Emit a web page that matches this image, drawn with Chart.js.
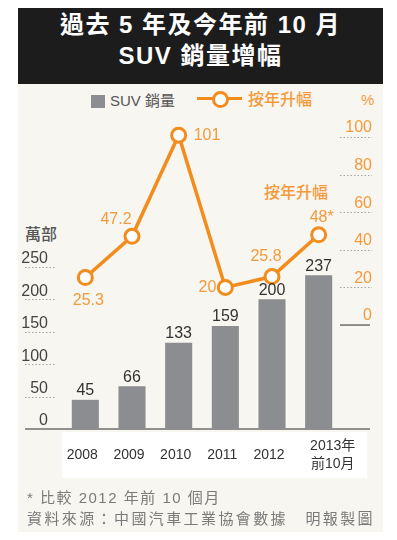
<!DOCTYPE html>
<html lang="zh-Hant">
<head>
<meta charset="utf-8">
<script src="https://cdn.jsdelivr.net/npm/chart.js@4.4.1/dist/chart.umd.min.js"></script>
<style>
  body { margin: 0; background: #fff; font-family: 'Liberation Sans', 'Noto Sans CJK TC', sans-serif; }
  #wrap { position: relative; width: 397px; height: 540px; overflow: hidden; }
  .panel { position: absolute; left: 18px; top: 84px; width: 365px; height: 448px; background: #f8f6f1; }
  .title { position: absolute; left: 18px; top: 8px; width: 365px; height: 76px; box-sizing: border-box; padding-top: 1px;
           background: #1d1c1c; color: #fff; text-align: center; font-weight: bold; font-size: 24px; line-height: 31px;
           letter-spacing: 1.5px; }
  .band { position: absolute; left: 62px; top: 432px; width: 305px; height: 46px; background: #fff; }
  canvas { position: absolute; left: 0; top: 0; }
  .abs { position: absolute; white-space: nowrap; line-height: 1; }
  .orange { color: #f39a3c; }
  .note { position: absolute; left: 27px; color: #7a7a7a; font-size: 15px; line-height: 1; white-space: nowrap; letter-spacing: 1.5px; }
</style>
</head>
<body>
<div id="wrap">
  <div class="panel"></div>
  <div class="title">過去 5 年及今年前 10 月<br>SUV 銷量增幅</div>
  <div class="band"></div>

  <!-- legend -->
  <div class="abs" style="left:91px;top:95px;width:14px;height:13px;background:#8c8d90;"></div>
  <div class="abs" style="left:110px;top:93px;font-size:15px;color:#555;">SUV 銷量</div>
  <div class="abs" style="left:197px;top:97px;width:45px;height:3px;background:#f28c1c;"></div>
  <div class="abs" style="left:212px;top:91px;width:17px;height:17px;box-sizing:border-box;border:3px solid #f28c1c;border-radius:50%;background:#fff;"></div>
  <div class="abs orange" style="left:248px;top:92px;font-size:16px;font-weight:500;">按年升幅</div>
  <div class="abs orange" style="left:361px;top:92px;font-size:15px;">%</div>

  <!-- axis captions -->
  <div class="abs" style="left:25px;top:227px;font-size:16px;font-weight:500;color:#555;">萬部</div>
  <div class="abs orange" style="left:264px;top:185px;font-size:16px;font-weight:500;">按年升幅</div>

  <canvas id="suvChart" width="397" height="540"></canvas>

  <div class="note" style="top:490px;">* 比較 2012 年前 10 個月</div>
  <div class="note" style="top:511px;letter-spacing:2.4px;">資料來源：中國汽車工業協會數據　明報製圖</div>
</div>

<script>
// Data
const years = ['2008', '2009', '2010', '2011', '2012', ['2013年', '前10月']];
const salesWan = [45, 66, 133, 159, 200, 237];
const growthPct = [25.3, 47.2, 101, 20, 25.8, 48];
const growthText = ['25.3', '47.2', '101', '20', '25.8', '48*'];
const salesTicks = [0, 50, 100, 150, 200, 250];
const pctTicks = [0, 20, 40, 60, 80, 100];

// Where each growth label sits relative to its point
const growthLabelPlace = [
  { dx: 3, dy: 23, align: 'center' },
  { dx: -16, dy: -17, align: 'center' },
  { dx: 15, dy: 0, align: 'left' },
  { dx: -9, dy: 0, align: 'right' },
  { dx: -6, dy: -20, align: 'center' },
  { dx: 3, dy: -17, align: 'center' },
];

const ORANGE = '#f28c1c';
const ORANGE_TEXT = '#f39a3c';
const BAR_GREY = '#8c8d90';
const FONT = "'Liberation Sans', 'Noto Sans CJK TC', sans-serif";

/**
 * Dotted rules under tick labels, base line, category and value labels
 */
const overlayPlugin = {
  id: 'overlay',
  beforeDatasetsDraw(chart) {
    const ctx = chart.ctx;
    const ys = chart.scales.ySales;
    const yp = chart.scales.yPct;
    ctx.save();
    ctx.lineWidth = 1;
    ctx.strokeStyle = '#a5a5a5';
    ctx.setLineDash([1.5, 2]);
    salesTicks.forEach((v) => {
      if (v === 0) return;
      const y = Math.round(ys.getPixelForValue(v)) + 0.5;
      ctx.beginPath();
      ctx.moveTo(ys.right - 37, y);
      ctx.lineTo(ys.right - 6, y);
      ctx.stroke();
    });
    pctTicks.forEach((v) => {
      if (v === 0) return;
      const y = Math.round(yp.getPixelForValue(v)) + 0.5;
      ctx.beginPath();
      ctx.moveTo(yp.left - 2, y);
      ctx.lineTo(yp.right, y);
      ctx.stroke();
    });
    ctx.setLineDash([]);
    ctx.strokeStyle = '#6e6e6e';
    ctx.lineWidth = 1.5;
    // 0 % rule
    const y0p = yp.getPixelForValue(0);
    ctx.beginPath();
    ctx.moveTo(yp.left - 2, y0p);
    ctx.lineTo(yp.right - 2, y0p);
    ctx.stroke();
    // base line of the bars
    const y0 = ys.getPixelForValue(0);
    ctx.beginPath();
    ctx.moveTo(ys.right - 37, y0);
    ctx.lineTo(yp.right - 2, y0);
    ctx.stroke();

    // category labels, multi-line ones centred on the same line
    const xs = chart.scales.x;
    const lineH = 18;
    ctx.font = '14px ' + FONT;
    ctx.fillStyle = '#333';
    ctx.textAlign = 'center';
    ctx.textBaseline = 'middle';
    years.forEach((label, i) => {
      const lines = Array.isArray(label) ? label : [label];
      const x = xs.getPixelForValue(i) + (lines.length > 1 ? 14 : -3);
      const top = y0 + 26 - ((lines.length - 1) * lineH) / 2;
      lines.forEach((t, k) => ctx.fillText(t, x, top + k * lineH));
    });
    ctx.restore();
  },
  afterDatasetsDraw(chart) {
    const ctx = chart.ctx;
    ctx.save();
    ctx.font = '16px ' + FONT;
    ctx.textAlign = 'center';
    ctx.textBaseline = 'bottom';
    ctx.fillStyle = '#333';
    chart.getDatasetMeta(0).data.forEach((bar, i) => {
      ctx.fillText(String(salesWan[i]), bar.x, bar.y - 1);
    });
    ctx.fillStyle = ORANGE_TEXT;
    ctx.textBaseline = 'middle';
    chart.getDatasetMeta(1).data.forEach((pt, i) => {
      const p = growthLabelPlace[i];
      ctx.textAlign = p.align;
      ctx.fillText(growthText[i], pt.x + p.dx, pt.y + p.dy);
    });
    ctx.restore();
  },
};

new Chart(document.getElementById('suvChart'), {
  data: {
    labels: years,
    datasets: [
      {
        type: 'bar',
        data: salesWan,
        yAxisID: 'ySales',
        backgroundColor: BAR_GREY,
        barPercentage: 0.58,
        categoryPercentage: 1,
        order: 2,
      },
      {
        type: 'line',
        data: growthPct,
        yAxisID: 'yPct',
        borderColor: ORANGE,
        borderWidth: 3.5,
        pointRadius: 7,
        pointBorderWidth: 3,
        pointBackgroundColor: '#fff',
        pointBorderColor: ORANGE,
        tension: 0,
        order: 1,
      },
    ],
  },
  options: {
    responsive: false,
    animation: false,
    devicePixelRatio: 1,
    layout: { padding: { left: 0, right: 25, top: 110, bottom: 0 } },
    plugins: { legend: { display: false }, tooltip: { enabled: false } },
    scales: {
      x: {
        grid: { display: false },
        border: { display: false },
        ticks: { display: false },
        afterFit: (scale) => { scale.height = 111; },
      },
      ySales: {
        position: 'left',
        min: 0,
        max: 492,
        grid: { display: false },
        border: { display: false },
        afterBuildTicks: (scale) => { scale.ticks = salesTicks.map((v) => ({ value: v })); },
        ticks: {
          color: '#444',
          font: { size: 16, family: FONT },
          padding: 6,
          labelOffset: -8,
          autoSkip: false,
        },
        afterFit: (scale) => { scale.width = 62; },
      },
      yPct: {
        position: 'right',
        min: -55.3,
        max: 114.4,
        grid: { display: false },
        border: { display: false },
        afterBuildTicks: (scale) => { scale.ticks = pctTicks.map((v) => ({ value: v })); },
        ticks: {
          color: ORANGE_TEXT,
          font: { size: 16, family: FONT },
          crossAlign: 'far',
          labelOffset: -9,
          autoSkip: false,
        },
        afterFit: (scale) => { scale.width = 30; },
      },
    },
  },
  plugins: [overlayPlugin],
});
</script>
</body>
</html>
